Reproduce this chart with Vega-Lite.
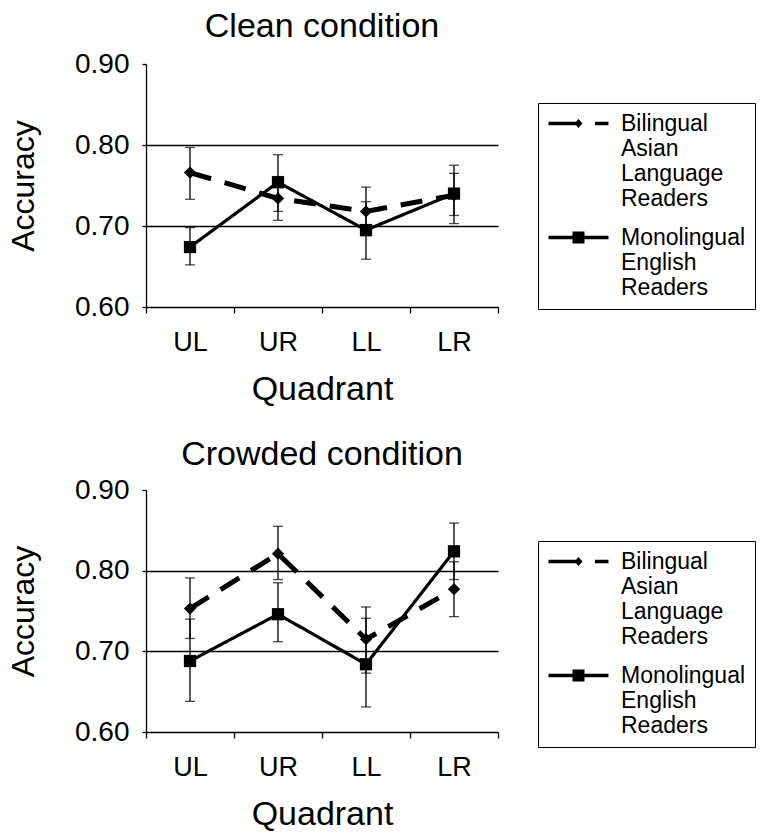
{
  "$schema": "https://vega.github.io/schema/vega-lite/v6.json",
  "padding": {"left": 7, "top": 10, "right": 0, "bottom": 0},
  "background": "white",
  "config": {
    "font": "Liberation Sans",
    "view": {"stroke": null},
    "axis": {"labelFont": "Liberation Sans", "titleFont": "Liberation Sans", "labelColor": "black", "titleColor": "black", "domainColor": "black", "tickColor": "black", "titleFontWeight": "normal", "labelFontSize": 27, "titleFontSize": 34, "domainWidth": 1.3, "tickWidth": 1.3},
    "concat": {"spacing": 32}
  },
  "datasets": {
    "d": [
      {"panel": "Clean", "quadrant": "UL", "qi": 1, "group": "Bilingual Asian Language Readers", "mean": 0.766, "lo": 0.733, "hi": 0.797},
      {"panel": "Clean", "quadrant": "UR", "qi": 2, "group": "Bilingual Asian Language Readers", "mean": 0.734, "lo": 0.707, "hi": 0.761},
      {"panel": "Clean", "quadrant": "LL", "qi": 3, "group": "Bilingual Asian Language Readers", "mean": 0.718, "lo": 0.688, "hi": 0.748},
      {"panel": "Clean", "quadrant": "LR", "qi": 4, "group": "Bilingual Asian Language Readers", "mean": 0.738, "lo": 0.713, "hi": 0.765},
      {"panel": "Clean", "quadrant": "UL", "qi": 1, "group": "Monolingual English Readers", "mean": 0.674, "lo": 0.652, "hi": 0.698},
      {"panel": "Clean", "quadrant": "UR", "qi": 2, "group": "Monolingual English Readers", "mean": 0.754, "lo": 0.718, "hi": 0.788},
      {"panel": "Clean", "quadrant": "LL", "qi": 3, "group": "Monolingual English Readers", "mean": 0.695, "lo": 0.659, "hi": 0.730},
      {"panel": "Clean", "quadrant": "LR", "qi": 4, "group": "Monolingual English Readers", "mean": 0.740, "lo": 0.703, "hi": 0.775},
      {"panel": "Crowded", "quadrant": "UL", "qi": 1, "group": "Bilingual Asian Language Readers", "mean": 0.753, "lo": 0.716, "hi": 0.791},
      {"panel": "Crowded", "quadrant": "UR", "qi": 2, "group": "Bilingual Asian Language Readers", "mean": 0.821, "lo": 0.789, "hi": 0.855},
      {"panel": "Crowded", "quadrant": "LL", "qi": 3, "group": "Bilingual Asian Language Readers", "mean": 0.715, "lo": 0.673, "hi": 0.755},
      {"panel": "Crowded", "quadrant": "LR", "qi": 4, "group": "Bilingual Asian Language Readers", "mean": 0.777, "lo": 0.743, "hi": 0.811},
      {"panel": "Crowded", "quadrant": "UL", "qi": 1, "group": "Monolingual English Readers", "mean": 0.688, "lo": 0.638, "hi": 0.740},
      {"panel": "Crowded", "quadrant": "UR", "qi": 2, "group": "Monolingual English Readers", "mean": 0.746, "lo": 0.712, "hi": 0.785},
      {"panel": "Crowded", "quadrant": "LL", "qi": 3, "group": "Monolingual English Readers", "mean": 0.684, "lo": 0.631, "hi": 0.741},
      {"panel": "Crowded", "quadrant": "LR", "qi": 4, "group": "Monolingual English Readers", "mean": 0.824, "lo": 0.789, "hi": 0.859}
    ]
  },
  "vconcat": [
    {
      "width": 352, "height": 243,
      "title": {"text": "Clean condition", "fontSize": 34, "font": "Liberation Sans", "fontWeight": "normal", "color": "black", "offset": 6, "anchor": "middle", "frame": "group"},
      "data": {"name": "d"},
      "transform": [{"filter": "datum.panel === 'Clean'"}],
      "encoding": {
        "x": {"field": "quadrant", "type": "nominal", "sort": ["UL", "UR", "LL", "LR"], "scale": {"paddingInner": 0, "paddingOuter": 0}, "axis": {"title": "Quadrant", "labelAngle": 0, "tickBand": "extent", "tickSize": 6, "labelPadding": 16, "titlePadding": 17, "grid": false}}
      },
      "layer": [
        {
          "mark": {"type": "line", "color": "black"},
          "encoding": {
            "y": {"field": "mean", "type": "quantitative", "scale": {"domain": [0.6, 0.9], "nice": false, "zero": false}, "axis": {"title": "Accuracy", "titleFontSize": 32, "labelFontSize": 28, "values": [0.6, 0.7, 0.8, 0.9], "format": ".2f", "tickSize": 4, "labelPadding": 13, "titlePadding": 34, "grid": true, "gridColor": "black", "gridWidth": 1.3, "gridOpacity": {"condition": {"test": "datum.value > 0.65 && datum.value < 0.85", "value": 1}, "value": 0}}},
            "order": {"field": "qi", "type": "quantitative"},
            "strokeWidth": {"field": "group", "type": "nominal", "scale": {"domain": ["Monolingual English Readers", "Bilingual Asian Language Readers"], "range": [3.2, 5]}, "legend": null},
            "strokeDash": {"field": "group", "type": "nominal", "scale": {"domain": ["Monolingual English Readers", "Bilingual Asian Language Readers"], "range": [[1, 0], [22, 14]]}, "legend": null}
          }
        },
        {
          "mark": {"type": "errorbar", "color": "black", "thickness": 1.3, "ticks": {"size": 10, "thickness": 1.3}},
          "encoding": {
            "y": {"field": "lo", "type": "quantitative", "title": "Accuracy"},
            "y2": {"field": "hi"}
          }
        },
        {
          "mark": {"type": "point", "filled": true, "color": "black", "size": 150, "opacity": 1},
          "encoding": {
            "y": {"field": "mean", "type": "quantitative", "title": "Accuracy"},
            "shape": {"field": "group", "type": "nominal", "scale": {"domain": ["Monolingual English Readers", "Bilingual Asian Language Readers"], "range": ["square", "diamond"]}, "legend": null}
          }
        },
        {
          "mark": {"type": "point", "filled": true, "color": "black", "size": 10, "opacity": 0},
          "encoding": {
            "y": {"field": "mean", "type": "quantitative", "title": "Accuracy"},
            "shape": {"field": "group", "type": "nominal", "scale": {"domain": ["Bilingual Asian Language Readers", "Monolingual English Readers"], "range": ["M-1,-0.17H2V0.17H-1Z M2,-0.45L2.4,0L2,0.45L1.6,0Z M3.65,-0.17H5V0.17H3.65Z", "M-1,-0.17H5V0.17H-1Z M1.4,-0.6H2.6V0.6H1.4Z"]},
              "legend": {"title": null, "orient": "none", "legendX": 392, "legendY": 39, "labelExpr": "split(datum.label, ' ')", "labelFontSize": 23, "labelFont": "Liberation Sans", "labelColor": "black", "symbolSize": 400, "symbolStrokeWidth": 0, "symbolOpacity": 1, "symbolFillColor": "black", "labelOffset": 51, "padding": 9, "strokeColor": "black", "rowPadding": 15, "symbolOffset": 0,
                "encode": {
                  "legend": {"strokeWidth": {"value": 1.5}},
                  "symbols": {"fill": {"value": "black"}, "stroke": {"value": "transparent"}, "strokeWidth": {"value": 0}, "opacity": {"value": 1}},
                  "labels": {"lineHeight": {"value": 22}}
                }
              }
            }
          }
        }
      ],
      "resolve": {"scale": {"shape": "independent"}}
    },
    {
      "width": 352, "height": 242,
      "title": {"text": "Crowded condition", "fontSize": 34, "font": "Liberation Sans", "fontWeight": "normal", "color": "black", "offset": 4, "anchor": "middle", "frame": "group"},
      "data": {"name": "d"},
      "transform": [{"filter": "datum.panel === 'Crowded'"}],
      "encoding": {
        "x": {"field": "quadrant", "type": "nominal", "sort": ["UL", "UR", "LL", "LR"], "scale": {"paddingInner": 0, "paddingOuter": 0}, "axis": {"title": "Quadrant", "labelAngle": 0, "tickBand": "extent", "tickSize": 6, "labelPadding": 16, "titlePadding": 17, "grid": false}}
      },
      "layer": [
        {
          "mark": {"type": "line", "color": "black"},
          "encoding": {
            "y": {"field": "mean", "type": "quantitative", "scale": {"domain": [0.6, 0.9], "nice": false, "zero": false}, "axis": {"title": "Accuracy", "titleFontSize": 32, "labelFontSize": 28, "values": [0.6, 0.7, 0.8, 0.9], "format": ".2f", "tickSize": 4, "labelPadding": 13, "titlePadding": 34, "grid": true, "gridColor": "black", "gridWidth": 1.3, "gridOpacity": {"condition": {"test": "datum.value > 0.65 && datum.value < 0.85", "value": 1}, "value": 0}}},
            "order": {"field": "qi", "type": "quantitative"},
            "strokeWidth": {"field": "group", "type": "nominal", "scale": {"domain": ["Monolingual English Readers", "Bilingual Asian Language Readers"], "range": [3.2, 5]}, "legend": null},
            "strokeDash": {"field": "group", "type": "nominal", "scale": {"domain": ["Monolingual English Readers", "Bilingual Asian Language Readers"], "range": [[1, 0], [22, 14]]}, "legend": null}
          }
        },
        {
          "mark": {"type": "errorbar", "color": "black", "thickness": 1.3, "ticks": {"size": 10, "thickness": 1.3}},
          "encoding": {
            "y": {"field": "lo", "type": "quantitative", "title": "Accuracy"},
            "y2": {"field": "hi"}
          }
        },
        {
          "mark": {"type": "point", "filled": true, "color": "black", "size": 150, "opacity": 1},
          "encoding": {
            "y": {"field": "mean", "type": "quantitative", "title": "Accuracy"},
            "shape": {"field": "group", "type": "nominal", "scale": {"domain": ["Monolingual English Readers", "Bilingual Asian Language Readers"], "range": ["square", "diamond"]}, "legend": null}
          }
        },
        {
          "mark": {"type": "point", "filled": true, "color": "black", "size": 10, "opacity": 0},
          "encoding": {
            "y": {"field": "mean", "type": "quantitative", "title": "Accuracy"},
            "shape": {"field": "group", "type": "nominal", "scale": {"domain": ["Bilingual Asian Language Readers", "Monolingual English Readers"], "range": ["M-1,-0.17H2V0.17H-1Z M2,-0.45L2.4,0L2,0.45L1.6,0Z M3.65,-0.17H5V0.17H3.65Z", "M-1,-0.17H5V0.17H-1Z M1.4,-0.6H2.6V0.6H1.4Z"]},
              "legend": {"title": null, "orient": "none", "legendX": 392, "legendY": 51, "labelExpr": "split(datum.label, ' ')", "labelFontSize": 23, "labelFont": "Liberation Sans", "labelColor": "black", "symbolSize": 400, "symbolStrokeWidth": 0, "symbolOpacity": 1, "symbolFillColor": "black", "labelOffset": 51, "padding": 9, "strokeColor": "black", "rowPadding": 15, "symbolOffset": 0,
                "encode": {
                  "legend": {"strokeWidth": {"value": 1.5}},
                  "symbols": {"fill": {"value": "black"}, "stroke": {"value": "transparent"}, "strokeWidth": {"value": 0}, "opacity": {"value": 1}},
                  "labels": {"lineHeight": {"value": 22}}
                }
              }
            }
          }
        }
      ],
      "resolve": {"scale": {"shape": "independent"}}
    }
  ],
  "resolve": {"scale": {"shape": "independent", "strokeDash": "independent", "strokeWidth": "independent"}}
}
